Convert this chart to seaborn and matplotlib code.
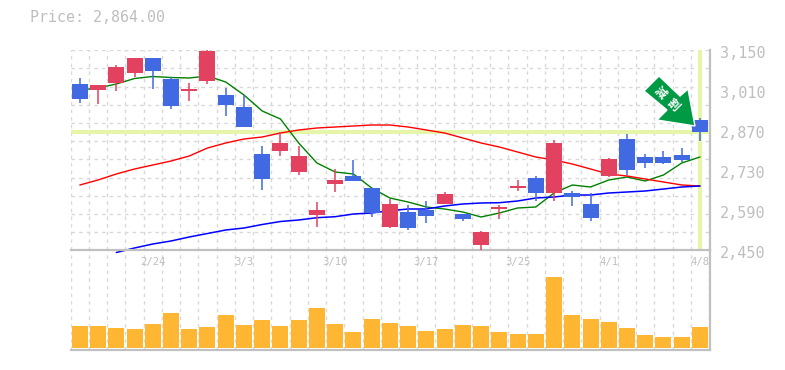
import matplotlib
matplotlib.use('Agg')
import matplotlib.pyplot as plt
from matplotlib.patches import Polygon
import numpy as np
import pandas as pd
import seaborn as sns

W, H = 785, 370

# price data
opens = [3032, 3011, 3035, 3071, 3123, 3050, 3007, 3042, 2994, 2952, 2787, 2797, 2724, 2573, 2682, 2710, 2668, 2532,
         2584, 2591, 2612, 2577, 2468, 2594, 2668, 2703, 2650, 2650, 2612, 2710, 2840, 2776, 2776, 2783, 2906]
closes = [2980, 3029, 3091, 3123, 3077, 2955, 3014, 3148, 2959, 2881, 2700, 2825, 2780, 2591, 2696, 2692, 2581, 2612,
          2528, 2570, 2647, 2560, 2514, 2601, 2675, 2650, 2825, 2636, 2563, 2769, 2731, 2755, 2755, 2766, 2864]
highs = [3053, 3029, 3098, 3123, 3123, 3057, 3036, 3151, 3018, 2994, 2815, 2864, 2815, 2619, 2735, 2766, 2668, 2630,
         2609, 2622, 2654, 2577, 2517, 2609, 2696, 2710, 2836, 2657, 2650, 2773, 2857, 2787, 2797, 2808, 2913]
lows = [2967, 2962, 3007, 3057, 3014, 2945, 2972, 3032, 2920, 2881, 2661, 2780, 2714, 2532, 2654, 2692, 2567, 2528,
        2521, 2545, 2612, 2553, 2451, 2560, 2657, 2622, 2622, 2605, 2553, 2706, 2714, 2738, 2752, 2759, 2833]
volumes = [22, 22, 20, 19, 24, 35, 19, 21, 33, 23, 28, 22, 28, 40, 24, 16, 29, 25,
           22, 17, 19, 23, 22, 16, 14, 14, 71, 33, 29, 26, 20, 13, 11, 11, 21]

# moving averages, read in pixels then converted below
ma_short_y = [90, 88, 84, 78.5, 76.5, 77.5, 78, 76, 82, 95, 111, 119, 143, 163, 172, 174, 188, 198,
              202, 207, 209, 212, 217, 213, 208, 207, 193, 185, 187, 180, 177, 181, 175, 163, 157]
ma_mid_y = [185, 180, 174, 169, 165, 161, 156, 148, 143, 139, 137, 133, 130, 128, 127, 126, 125, 125,
            127, 130, 133, 138, 143, 147, 152, 157, 160, 164, 169, 174, 176, 179, 182, 185, 186]
ma_long_y = [np.nan, np.nan, 252.5, 248, 244, 241, 237, 233.5, 230, 228, 224.5, 221.5, 220, 217.7, 216.7, 214, 213, 210.7,
             209, 209, 206, 204, 203, 202.7, 201, 198, 197, 195, 195, 193, 192, 191, 189, 187, 186]

date_idx = [4, 9, 14, 19, 24, 29, 34]
date_labels = ['2/24', '3/3', '3/10', '3/17', '3/25', '4/1', '4/8']
price_ticks = [3150, 3010, 2870, 2730, 2590, 2450]
last_price = 2864


def to_price(y):
    return 2450 + (250.3 - np.array(y, dtype=float)) * 3.5


BLUE = '#4169E1'
RED = '#E2425F'
GREEN = '#008000'
LIME = '#E5F6A9'
GRID = '#D8D8D8'
AXIS = '#C0C0C0'
TEXT = '#BEBEBE'
FONT = 'DejaVu Sans Mono'

sns.set_theme(style='white')
plt.rcParams['font.family'] = ['DejaVu Sans Mono', 'Noto Sans CJK JP']

df = pd.DataFrame({'i': range(len(opens)), 'open': opens, 'close': closes, 'high': highs, 'low': lows, 'vol': volumes})
df['ma5'] = to_price(ma_short_y)
df['ma25'] = to_price(ma_mid_y)
df['ma75'] = to_price(ma_long_y)

fig = plt.figure(figsize=(W / 100, H / 100), dpi=100, facecolor='white')


def box(x0, y0, x1, y1):
    return [x0 / W, 1 - y1 / H, (x1 - x0) / W, (y1 - y0) / H]


ax = fig.add_axes(box(70.7, 50.3, 710, 250.3), facecolor='none', zorder=3)
ax_v = fig.add_axes(box(70.7, 250.3, 710, 350), facecolor='none', zorder=2, sharex=ax)

x_grid = np.arange(-0.5, 35, 1)
for a in (ax, ax_v):
    a.set_xlim(-0.5, 34.55)
    a.set_xticks(x_grid, minor=True)
    a.grid(True, which='minor', axis='x', color=GRID, lw=1, ls=(0, (2.5, 3)), zorder=0)
    a.set_axisbelow(True)
    a.tick_params(which='both', length=0)
    for s in a.spines.values():
        s.set_visible(False)
    a.spines['right'].set_visible(True)
    a.spines['right'].set_color(AXIS)
    a.spines['right'].set_linewidth(1.6)

# price pane
ax.set_ylim(2450, 3150)
ax.set_yticks(np.linspace(2450, 3150, 12))
ax.grid(True, which='major', axis='y', color=GRID, lw=1, ls=(0, (2.5, 3)), zorder=0)
ax.set_yticklabels([])
for p in price_ticks:
    ax.annotate(f'{p:,}', xy=(1.0, p), xycoords=ax.get_yaxis_transform(), xytext=(7.2, -2), textcoords='offset points',
                color=TEXT, fontsize=10.9, family=FONT, ha='left', va='center', annotation_clip=False)

ax.axhline(last_price, color=LIME, lw=2.9, zorder=1)
ax.axvline(df['i'].iloc[-1], color=LIME, lw=2.9, zorder=1)

sns.lineplot(data=df, x='i', y='ma5', ax=ax, color=GREEN, lw=1.0, zorder=2, legend=False)
sns.lineplot(data=df, x='i', y='ma25', ax=ax, color='#FF0000', lw=1.0, zorder=2, legend=False)
sns.lineplot(data=df, x='i', y='ma75', ax=ax, color='#0000FF', lw=1.1, zorder=2, legend=False, clip_on=False)

colors = [RED if c > o else BLUE for o, c in zip(df['open'], df['close'])]
ax.vlines(df['i'], df['low'], df['high'], colors=colors, lw=1.1, zorder=3)
ax.bar(df['i'], (df['close'] - df['open']).abs(), bottom=df[['open', 'close']].min(axis=1),
       width=16 / 18.24, color=colors, linewidth=0, zorder=4)
ax.set_xlabel('')
ax.set_ylabel('')

# date labels live under the middle line
ax.set_xticks(date_idx, date_labels)
ax.tick_params(axis='x', which='major', pad=5, labelsize=7.6, labelcolor=TEXT, length=0)
ax.spines['bottom'].set_visible(True)
ax.spines['bottom'].set_color(AXIS)
ax.spines['bottom'].set_linewidth(1.6)

# volume pane
sns.barplot(data=df, x='i', y='vol', ax=ax_v, native_scale=True, color='#FFB733', saturation=1,
            width=16 / 18.24, linewidth=0, legend=False, zorder=2)
ax_v.set_xlim(-0.5, 34.55)
ax_v.set_ylim(-1.6, 98.1)
ax_v.set_yticks([])
ax_v.set_xlabel('')
ax_v.set_ylabel('')
ax_v.spines['bottom'].set_visible(True)
ax_v.spines['bottom'].set_color(AXIS)
ax_v.spines['bottom'].set_linewidth(1.6)
ax_v.tick_params(axis='x', which='both', labelbottom=False)

fig.text(30 / W, 1 - 18 / H, f'Price: {last_price:,.2f}', color=TEXT, fontsize=10.8, family=FONT, ha='left', va='center')

# arrow badge, pixel outline
badge = [(659, 76), (644, 91), (667, 110), (657, 120), (695, 126), (688, 89), (680, 96)]
fig.add_artist(Polygon([(x / W, 1 - y / H) for x, y in badge], closed=True, transform=fig.transFigure,
                       facecolor='#009944', edgecolor='white', lw=1, zorder=10))
fig.text(660 / W, 1 - 93 / H, '減', color='white', fontsize=8.5, fontweight='bold', rotation=-45, rotation_mode='anchor',
         ha='center', va='center', family=['Noto Sans CJK JP'], zorder=11)
fig.text(673 / W, 1 - 105 / H, '割', color='white', fontsize=8.5, fontweight='bold', rotation=-45, rotation_mode='anchor',
         ha='center', va='center', family=['Noto Sans CJK JP'], zorder=11)

fig.savefig('out.png', dpi=100)
